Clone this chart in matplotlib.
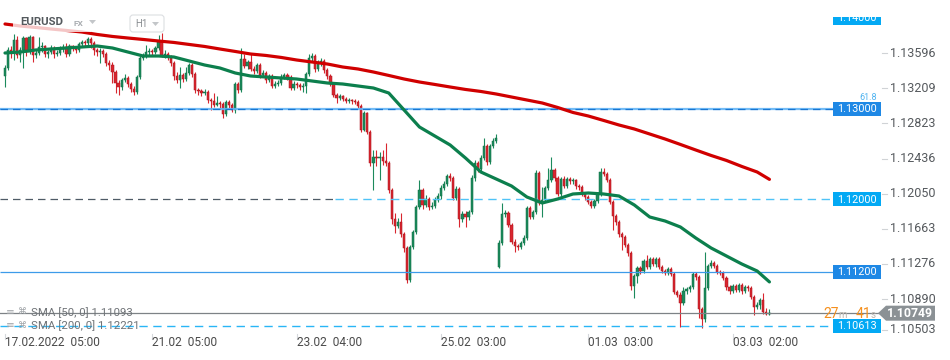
import matplotlib
matplotlib.use("Agg")
import matplotlib.pyplot as plt
import numpy as np
from matplotlib.patches import Rectangle, Polygon, FancyBboxPatch
from matplotlib.transforms import Affine2D, IdentityTransform

plt.rcParams['font.family'] = ['Roboto', 'DejaVu Sans']

# ---------------- data ----------------
symbol = "EURUSD"
market = "FX"
timeframe = "H1"

first_open = 1.13358
gap_index = 161          # Monday open after the weekend
gap_open = 1.11257

closes = [
    1.13446, 1.13644, 1.13622, 1.13754, 1.13589, 1.13644, 1.13776, 1.13622, 1.13787, 1.13589,
    1.13611, 1.13677, 1.13688, 1.13600, 1.13622, 1.13666, 1.13600, 1.13611, 1.13655, 1.13677,
    1.13600, 1.13688, 1.13666, 1.13644, 1.13710, 1.13732, 1.13721, 1.13765, 1.13721, 1.13644,
    1.13622, 1.13633, 1.13600, 1.13501, 1.13479, 1.13402, 1.13281, 1.13237, 1.13314, 1.13336,
    1.13270, 1.13215, 1.13182, 1.13347, 1.13556, 1.13578, 1.13622, 1.13633, 1.13622, 1.13666,
    1.13732, 1.13589, 1.13600, 1.13567, 1.13501, 1.13358, 1.13314, 1.13369, 1.13325, 1.13391,
    1.13479, 1.13380, 1.13204, 1.13193, 1.13171, 1.13182, 1.13094, 1.13083, 1.13039, 1.13061,
    1.13050, 1.12940, 1.13072, 1.13039, 1.12984, 1.13270, 1.13204, 1.13545, 1.13468, 1.13512,
    1.13435, 1.13413, 1.13479, 1.13369, 1.13391, 1.13314, 1.13358, 1.13248, 1.13270, 1.13281,
    1.13347, 1.13369, 1.13347, 1.13226, 1.13270, 1.13259, 1.13237, 1.13248, 1.13380, 1.13556,
    1.13578, 1.13435, 1.13512, 1.13523, 1.13424, 1.13358, 1.13270, 1.13149, 1.13116, 1.13138,
    1.13105, 1.13083, 1.13094, 1.13083, 1.13072, 1.13028, 1.12764, 1.12951, 1.12742, 1.12401,
    1.12467, 1.12456, 1.12467, 1.12423, 1.12401, 1.12104, 1.11785, 1.11708, 1.11752, 1.11620,
    1.11466, 1.11114, 1.11477, 1.11642, 1.11917, 1.12104, 1.11939, 1.12005, 1.11917, 1.11928,
    1.11994, 1.12038, 1.12126, 1.12170, 1.12258, 1.12236, 1.12016, 1.12115, 1.11785, 1.11840,
    1.11807, 1.11862, 1.12236, 1.12401, 1.12335, 1.12456, 1.12588, 1.12412, 1.12588, 1.12643,
    1.12676, 1.11521, 1.11840, 1.11851, 1.11719, 1.11532, 1.11488, 1.11477, 1.11521, 1.11576,
    1.11906, 1.11807, 1.11862, 1.12291, 1.11961, 1.11994, 1.12126, 1.12214, 1.12324, 1.12236,
    1.12060, 1.12225, 1.12148, 1.12225, 1.12203, 1.12214, 1.12148, 1.12137, 1.12060, 1.12027,
    1.11972, 1.11928, 1.11983, 1.12060, 1.12302, 1.12280, 1.12214, 1.11972, 1.11818, 1.11752,
    1.11620, 1.11587, 1.11499, 1.11411, 1.11048, 1.11158, 1.11246, 1.11213, 1.11323, 1.11257,
    1.11345, 1.11290, 1.11345, 1.11257, 1.11213, 1.11191, 1.11235, 1.11180, 1.10982, 1.10949,
    1.10861, 1.10993, 1.11015, 1.11037, 1.11180, 1.11147, 1.10795, 1.10685, 1.11026, 1.11268,
    1.11301, 1.11268, 1.11202, 1.11191, 1.11136, 1.11037, 1.10993, 1.11048, 1.11004, 1.11059,
    1.10993, 1.11037, 1.11026, 1.10927, 1.10817, 1.10839, 1.10894, 1.10762, 1.10740, 1.10749,
]

highs = [
    1.13479, 1.13677, 1.13688, 1.13820, 1.13798, 1.13677, 1.13798, 1.13787, 1.13809, 1.13798,
    1.13644, 1.13787, 1.13732, 1.13699, 1.13644, 1.13699, 1.13688, 1.13644, 1.13688, 1.13710,
    1.13721, 1.13710, 1.13699, 1.13688, 1.13732, 1.13754, 1.13754, 1.13787, 1.13787, 1.13743,
    1.13666, 1.13666, 1.13655, 1.13622, 1.13534, 1.13512, 1.13424, 1.13314, 1.13336, 1.13380,
    1.13358, 1.13292, 1.13248, 1.13369, 1.13578, 1.13611, 1.13699, 1.13666, 1.13655, 1.13688,
    1.13809, 1.13831, 1.13644, 1.13622, 1.13589, 1.13523, 1.13402, 1.13457, 1.13391, 1.13457,
    1.13501, 1.13501, 1.13402, 1.13226, 1.13215, 1.13215, 1.13204, 1.13116, 1.13171, 1.13138,
    1.13083, 1.13072, 1.13094, 1.13094, 1.13061, 1.13292, 1.13292, 1.13666, 1.13600, 1.13534,
    1.13611, 1.13468, 1.13501, 1.13501, 1.13424, 1.13413, 1.13380, 1.13380, 1.13303, 1.13314,
    1.13380, 1.13391, 1.13391, 1.13369, 1.13303, 1.13292, 1.13281, 1.13281, 1.13402, 1.13600,
    1.13611, 1.13600, 1.13534, 1.13556, 1.13545, 1.13446, 1.13380, 1.13292, 1.13171, 1.13160,
    1.13149, 1.13127, 1.13116, 1.13105, 1.13105, 1.13094, 1.13050, 1.12973, 1.12962, 1.12764,
    1.12544, 1.12544, 1.12522, 1.12544, 1.12621, 1.12423, 1.12126, 1.11851, 1.11796, 1.11851,
    1.11642, 1.11488, 1.11499, 1.11664, 1.11939, 1.12214, 1.12126, 1.12049, 1.12027, 1.11972,
    1.12027, 1.12071, 1.12159, 1.12203, 1.12280, 1.12291, 1.12258, 1.12148, 1.12137, 1.11873,
    1.11873, 1.11884, 1.12269, 1.12434, 1.12423, 1.12489, 1.12676, 1.12610, 1.12610, 1.12676,
    1.12720, 1.11554, 1.11961, 1.11884, 1.11873, 1.11741, 1.11565, 1.11510, 1.11543, 1.11609,
    1.11928, 1.11928, 1.11884, 1.12324, 1.12313, 1.12137, 1.12148, 1.12346, 1.12467, 1.12346,
    1.12258, 1.12247, 1.12258, 1.12247, 1.12247, 1.12236, 1.12225, 1.12170, 1.12159, 1.12082,
    1.12049, 1.11994, 1.12005, 1.12082, 1.12346, 1.12346, 1.12302, 1.12236, 1.11994, 1.11840,
    1.11774, 1.11642, 1.11609, 1.11521, 1.11433, 1.11180, 1.11268, 1.11268, 1.11345, 1.11389,
    1.11367, 1.11367, 1.11367, 1.11367, 1.11279, 1.11235, 1.11257, 1.11257, 1.11202, 1.11004,
    1.10982, 1.11037, 1.11037, 1.11059, 1.11202, 1.11202, 1.11169, 1.10817, 1.11422, 1.11290,
    1.11334, 1.11323, 1.11290, 1.11224, 1.11213, 1.11158, 1.11059, 1.11070, 1.11070, 1.11081,
    1.11081, 1.11059, 1.11059, 1.11048, 1.10949, 1.10872, 1.10916, 1.10971, 1.10806, 1.10795,
]

lows = [
    1.13237, 1.13424, 1.13556, 1.13534, 1.13556, 1.13512, 1.13446, 1.13578, 1.13600, 1.13512,
    1.13556, 1.13589, 1.13622, 1.13567, 1.13556, 1.13600, 1.13556, 1.13578, 1.13589, 1.13622,
    1.13567, 1.13578, 1.13633, 1.13611, 1.13622, 1.13677, 1.13688, 1.13699, 1.13666, 1.13589,
    1.13578, 1.13501, 1.13567, 1.13468, 1.13424, 1.13281, 1.13171, 1.13149, 1.13204, 1.13292,
    1.13237, 1.13182, 1.13149, 1.13160, 1.13325, 1.13534, 1.13556, 1.13589, 1.13589, 1.13600,
    1.13644, 1.13567, 1.13556, 1.13534, 1.13468, 1.13314, 1.13281, 1.13226, 1.13292, 1.13303,
    1.13369, 1.13347, 1.13171, 1.13149, 1.13138, 1.13149, 1.13061, 1.12984, 1.13017, 1.13028,
    1.13006, 1.12896, 1.12918, 1.13006, 1.12962, 1.12951, 1.13171, 1.13182, 1.13446, 1.13435,
    1.13413, 1.13380, 1.13391, 1.13336, 1.13347, 1.13281, 1.13292, 1.13226, 1.13226, 1.13248,
    1.13259, 1.13325, 1.13314, 1.13204, 1.13204, 1.13226, 1.13204, 1.13182, 1.13171, 1.13358,
    1.13512, 1.13402, 1.13413, 1.13468, 1.13391, 1.13325, 1.13248, 1.13127, 1.13061, 1.13094,
    1.13083, 1.13061, 1.13061, 1.13050, 1.13050, 1.13006, 1.12742, 1.12753, 1.12720, 1.12368,
    1.12104, 1.12368, 1.12214, 1.12379, 1.12368, 1.12071, 1.11730, 1.11631, 1.11686, 1.11587,
    1.11422, 1.11081, 1.11092, 1.11455, 1.11620, 1.11895, 1.11895, 1.11917, 1.11884, 1.11895,
    1.11906, 1.11972, 1.12005, 1.12104, 1.12148, 1.12203, 1.11994, 1.11994, 1.11697, 1.11752,
    1.11697, 1.11774, 1.11840, 1.12203, 1.12302, 1.12313, 1.12434, 1.12379, 1.12390, 1.12566,
    1.12621, 1.11246, 1.11499, 1.11807, 1.11697, 1.11510, 1.11422, 1.11444, 1.11455, 1.11499,
    1.11554, 1.11785, 1.11785, 1.11840, 1.11939, 1.11807, 1.11972, 1.12104, 1.12192, 1.12203,
    1.12038, 1.12038, 1.12126, 1.12126, 1.12170, 1.12170, 1.12115, 1.12104, 1.12038, 1.11994,
    1.11950, 1.11906, 1.11906, 1.11961, 1.12038, 1.12258, 1.12192, 1.11950, 1.11664, 1.11719,
    1.11587, 1.11444, 1.11477, 1.11378, 1.11004, 1.10916, 1.11081, 1.11180, 1.11191, 1.11235,
    1.11235, 1.11268, 1.11257, 1.11235, 1.11191, 1.11169, 1.11169, 1.11158, 1.10960, 1.10927,
    1.10597, 1.10839, 1.10960, 1.10982, 1.11015, 1.11114, 1.10696, 1.10586, 1.10652, 1.11004,
    1.11246, 1.11246, 1.11180, 1.11169, 1.11114, 1.11004, 1.10960, 1.10971, 1.10982, 1.10982,
    1.10960, 1.10971, 1.10993, 1.10905, 1.10729, 1.10795, 1.10795, 1.10740, 1.10729, 1.10729,
]

sma_index = list(range(0, 250, 5)) + [249]
sma50 = [
    1.13611, 1.13622, 1.13644, 1.13655, 1.13666, 1.13677, 1.13688, 1.13666, 1.13622, 1.13578,
    1.13578, 1.13567, 1.13523, 1.13479, 1.13446, 1.13391, 1.13358, 1.13347, 1.13336, 1.13325,
    1.13303, 1.13281, 1.13270, 1.13248, 1.13226, 1.13171, 1.12984, 1.12797, 1.12698, 1.12599,
    1.12456, 1.12302, 1.12225, 1.12148, 1.12027, 1.11961, 1.12005, 1.12060, 1.12071, 1.12060,
    1.12038, 1.11939, 1.11807, 1.11763, 1.11697, 1.11576, 1.11466, 1.11378, 1.11290, 1.11213,
    1.11093,
]
sma200 = [
    1.13930, 1.13908, 1.13892, 1.13875, 1.13859, 1.13842, 1.13815, 1.13793, 1.13776, 1.13760,
    1.13743, 1.13727, 1.13705, 1.13683, 1.13655, 1.13628, 1.13600, 1.13584, 1.13562, 1.13534,
    1.13512, 1.13490, 1.13457, 1.13435, 1.13402, 1.13364, 1.13325, 1.13292, 1.13265, 1.13237,
    1.13210, 1.13188, 1.13160, 1.13127, 1.13094, 1.13061, 1.13012, 1.12957, 1.12918, 1.12869,
    1.12819, 1.12775, 1.12720, 1.12665, 1.12605, 1.12544, 1.12484, 1.12429, 1.12363, 1.12302,
    1.12221,
]
sma_labels = ["SMA [50, 0] 1.11093", "SMA [200, 0] 1.12221"]

x_tick_pos = [0, 48, 95, 142, 190, 237]
x_tick_labels = ["17.02.2022  05:00", "21.02  05:00", "23.02  04:00",
                 "25.02  03:00", "01.03  03:00", "03.03  02:00"]

y_tick_values = [1.13596, 1.13209, 1.12823, 1.12436, 1.12050, 1.11663, 1.11276, 1.10890, 1.10503]

level_1300 = 1.13000
level_1200 = 1.12000
level_1120 = 1.11200
level_10613 = 1.10613
level_1400 = 1.14000
last_price = 1.10749
countdown = ("27", "m", "41", "s")
fib_label = "61.8"

# ---------------- style ----------------
W, H = 950, 360
UP = "#1c8a5c"
UP_EDGE = "#0f6e44"
DN = "#d9262f"
DN_EDGE = "#a8141d"
SMA50_C = "#0c7f4d"
SMA200_C = "#d00000"
BLUE = "#1e88e5"
CYAN = "#03a9f4"
GRAY_TXT = "#4a4a4a"

fig = plt.figure(figsize=(W / 100, H / 100), dpi=100)
fig.patch.set_facecolor("white")

plot_right = 833
plot_bottom = 333
ax = fig.add_axes([0, 1 - plot_bottom / H, plot_right / W, plot_bottom / H])
ax.set_facecolor("white")
for s in ax.spines.values():
    s.set_visible(False)
ax.set_xticks([])
ax.set_yticks([])

px_per_bar = 3.07
x0_px = 5.0
ax.set_xlim((0 - x0_px) / px_per_bar, (plot_right - x0_px) / px_per_bar)
top_price = 1.14194
px_per_price = 1 / 0.00011
ax.set_ylim(top_price - plot_bottom / px_per_price, top_price)

# pixel (top-left origin) transform
PX = Affine2D().scale(1, -1).translate(0, H) + IdentityTransform()

def ypx(price):
    return (top_price - price) * px_per_price

def bar_of_px(xp):
    return (xp - x0_px) / px_per_bar

# ---------------- candles ----------------
c = np.array(closes)
h = np.array(highs)
l = np.array(lows)
o = np.array([first_open] + closes[:-1])
o[gap_index] = gap_open
idx = np.arange(len(c))
up = c >= o
face = np.where(up, UP, DN)
edge = np.where(up, UP_EDGE, DN_EDGE)
ax.vlines(idx, l, h, colors=face, lw=0.8, zorder=2)
body_h = np.maximum(np.abs(c - o), 0.00007)
ax.bar(idx, body_h, bottom=np.minimum(o, c), width=0.72, color=face,
       edgecolor=edge, linewidth=0.35, zorder=3)

# ---------------- horizontal levels ----------------
xl = ax.get_xlim()
split = bar_of_px(335)
ax.hlines(level_1300, xl[0], xl[1], color="#64b5f6", lw=1.6, zorder=4, alpha=0.9)
ax.hlines(level_1300, xl[0], xl[1], color="#1976d2", lw=0.9, linestyles=(0, (6, 4)), zorder=4)
ax.hlines(level_1200, xl[0], split, color="#4f5b66", lw=0.9, linestyles=(0, (6, 4)), zorder=4)
ax.hlines(level_1200, split, xl[1], color="#4fc3f7", lw=1.0, linestyles=(0, (6, 4)), zorder=4)
ax.hlines(level_1120, xl[0], xl[1], color="#3d9be9", lw=0.9, zorder=4)
ax.hlines(level_10613, xl[0], xl[1], color="#29b6f6", lw=1.0, linestyles=(0, (6, 4)), zorder=4)
ax.plot([xl[0], bar_of_px(880)], [last_price, last_price], color="#7d8286",
        lw=0.9, zorder=4, clip_on=False)

# ---------------- SMA lines ----------------
ax.plot(sma_index, sma200, color=SMA200_C, lw=2.3, zorder=5, solid_capstyle="round")
ax.plot(sma_index, sma50, color=SMA50_C, lw=2.3, zorder=5, solid_capstyle="round")

# ---------------- header overlay ----------------
fig.patches.append(Rectangle((13, 11), 78, 21, transform=PX, facecolor="white",
                             alpha=0.78, edgecolor="none", zorder=10))
fig.text(20, 22, symbol, transform=PX, fontsize=8.2, fontweight="bold", color="#555a5e",
         va="center", ha="left", zorder=11)
fig.text(73, 23, market, transform=PX, fontsize=6, fontweight="bold", color="#a9adb1",
         va="center", ha="left", zorder=11)
fig.patches.append(Polygon([(89, 20), (96, 20), (92.5, 24)], closed=True, transform=PX,
                           facecolor="#c3c6c9", edgecolor="none", zorder=11))
fig.patches.append(FancyBboxPatch((130, 15), 34, 17, boxstyle="round,pad=0,rounding_size=3",
                                  transform=PX, facecolor="white", edgecolor="#dcdfe2",
                                  lw=0.8, zorder=10))
fig.text(135, 24, timeframe, transform=PX, fontsize=7, color="#8a8e92",
         va="center", ha="left", zorder=11)
fig.patches.append(Polygon([(152, 22), (159, 22), (155.5, 26)], closed=True, transform=PX,
                           facecolor="#c3c6c9", edgecolor="none", zorder=11))

# ---------------- x axis labels ----------------
for pos, lab in zip(x_tick_pos, x_tick_labels):
    xp = x0_px + pos * px_per_bar
    fig.lines.append(plt.Line2D([xp, xp], [334, 339], transform=PX, color="#d5d8db", lw=0.8))
    fig.text(xp, 343, lab, transform=PX, fontsize=8.6, color=GRAY_TXT,
             ha="left", va="center")

# ---------------- y axis labels ----------------
for v in y_tick_values:
    yp = min(ypx(v) - 1.3, 329.5)
    fig.lines.append(plt.Line2D([882, 887], [yp, yp], transform=PX, color="#d0d3d6", lw=0.8))
    fig.text(890, yp, f"{v:.5f}", transform=PX, fontsize=9, color="#55595d",
             ha="left", va="center")

# ---------------- level label boxes ----------------
def level_box(price, color):
    yp = ypx(price)
    fig.patches.append(Rectangle((833, yp - 7), 48, 14, transform=PX, facecolor=color,
                                 edgecolor="none", zorder=12))
    fig.text(857, yp + 0.3, f"{price:.5f}", transform=PX, fontsize=7.8, color="white",
             ha="center", va="center", zorder=13)

level_box(level_1400, CYAN)
# the top price label is partly hidden by the top edge of the price scale
fig.patches.append(Rectangle((828, 0), 58, 17, transform=PX, facecolor="white",
                             edgecolor="none", zorder=14))
level_box(level_1300, BLUE)
level_box(level_1200, CYAN)
level_box(level_1120, BLUE)
level_box(level_10613, CYAN)

fig.text(877, ypx(level_1300) - 11, fib_label, transform=PX, fontsize=6.5, color="#4fb3f0",
         ha="right", va="center", zorder=13)

# ---------------- last price tag ----------------
yl = ypx(last_price)
fig.patches.append(Polygon([(878, yl), (886, yl - 7.5), (935, yl - 7.5), (935, yl + 7.5),
                            (886, yl + 7.5)], closed=True, transform=PX,
                           facecolor="#8b9195", edgecolor="none", zorder=12))
fig.text(910, yl + 0.3, f"{last_price:.5f}", transform=PX, fontsize=8.8, fontweight="bold",
         color="white", ha="center", va="center", zorder=13)

# countdown
fig.text(823, yl + 1, countdown[0], transform=PX, fontsize=10, color="#f5901e",
         ha="left", va="center", zorder=13)
fig.text(838, yl + 2, countdown[1], transform=PX, fontsize=7, color="#b9b4ad",
         ha="left", va="center", zorder=13)
fig.text(856, yl + 1, countdown[2], transform=PX, fontsize=10, color="#f5901e",
         ha="left", va="center", zorder=13)
fig.text(871, yl + 2, countdown[3], transform=PX, fontsize=7, color="#b9b4ad",
         ha="left", va="center", zorder=13)

# ---------------- SMA legend ----------------
for k, lab in enumerate(sma_labels):
    yy = 312 + 13 * k
    fig.text(6, yy, "\u2261", transform=PX, fontsize=7.5, color="#a0a4a8", ha="left",
             va="center", family="DejaVu Sans", zorder=9)
    fig.text(18, yy, "\u2318", transform=PX, fontsize=6.5, color="#a0a4a8", ha="left",
             va="center", family="DejaVu Sans", zorder=9)
    fig.text(31, yy + 0.5, lab, transform=PX, fontsize=8.2, color="#6f7377", ha="left",
             va="center", zorder=9)

fig.savefig("out.png", dpi=100, facecolor="white")
